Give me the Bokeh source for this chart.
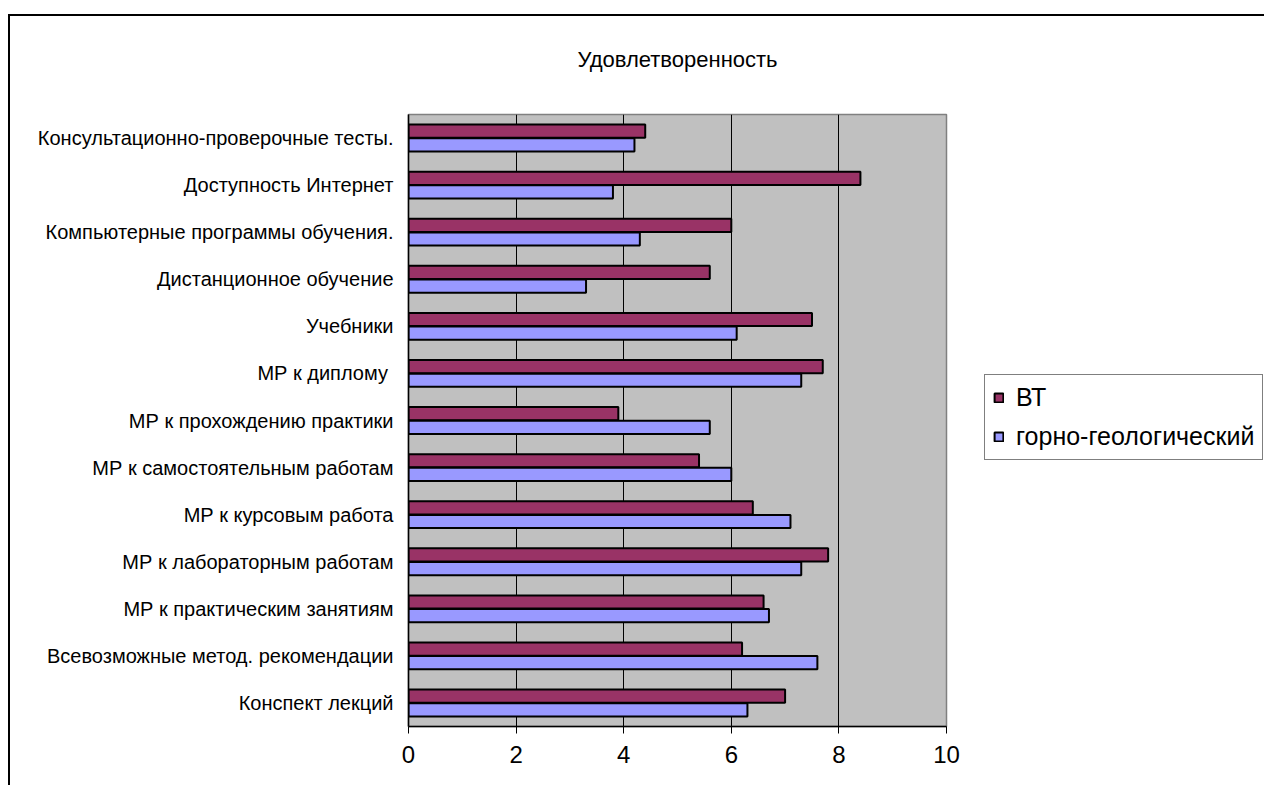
from bokeh.plotting import figure
from bokeh.models import (ColumnDataSource, FactorRange, Range1d, FixedTicker,
                          Legend, LegendItem, InlineStyleSheet)
from bokeh.transform import dodge
from bokeh.embed import file_html
from bokeh.resources import INLINE

# Survey items, listed bottom to top
categories = [
    "Конспект лекций",
    "Всевозможные метод. рекомендации",
    "МР к практическим занятиям",
    "МР к лабораторным работам",
    "МР к курсовым работа",
    "МР к самостоятельным работам",
    "МР к прохождению практики",
    "МР  к диплому",
    "Учебники",
    "Дистанционное обучение",
    "Компьютерные программы обучения.",
    "Доступность Интернет",
    "Консультационно-проверочные тесты.",
]
vt = [7.0, 6.2, 6.6, 7.8, 6.4, 5.4, 3.9, 7.7, 7.5, 5.6, 6.0, 8.4, 4.4]
gorno = [6.3, 7.6, 6.7, 7.3, 7.1, 6.0, 5.6, 7.3, 6.1, 3.3, 4.3, 3.8, 4.2]
series_names = ["ВТ", "горно-геологический"]
x_ticks = [0, 2, 4, 6, 8, 10]
title_text = "Удовлетворенность"

FONT = "Liberation Sans"
W, H = 1264, 785
LEFT, RIGHT, TOP, BOTTOM = 408, 946, 114, 726

src = ColumnDataSource(dict(cat=categories, vt=vt, gorno=gorno))

p = figure(
    frame_width=RIGHT - LEFT, frame_height=BOTTOM - TOP,
    y_range=FactorRange(*categories, range_padding=0),
    x_range=Range1d(0, 10),
    output_backend="svg", toolbar_location=None,
    min_border_left=LEFT, min_border_right=W - RIGHT,
    min_border_top=TOP, min_border_bottom=H - BOTTOM,
)
p.background_fill_color = "#C0C0C0"
p.border_fill_color = "white"
p.outline_line_color = "#808080"
p.outline_line_width = 1.5

# chart title
p.title.text = title_text
p.title.align = "center"
p.title.offset = 4
p.title.text_font = FONT
p.title.text_font_size = "22px"
p.title.text_font_style = "normal"
p.title.text_color = "black"
p.title.standoff = 86

bh = 0.28
r_vt = p.hbar(y=dodge("cat", 0.145, range=p.y_range), right="vt", left=0, height=bh,
              source=src, fill_color="#993366", line_color="black", line_width=2)
r_go = p.hbar(y=dodge("cat", -0.145, range=p.y_range), right="gorno", left=0, height=bh,
              source=src, fill_color="#9999FF", line_color="black", line_width=2)

# value axis
p.xaxis.ticker = FixedTicker(ticks=x_ticks)
p.xaxis.minor_tick_line_color = None
p.xaxis.major_tick_in = 0
p.xaxis.major_tick_out = 7
p.xaxis.major_tick_line_color = "black"
p.xaxis.axis_line_color = "black"
p.xaxis.axis_line_width = 1.5
p.xaxis.major_label_text_font = FONT
p.xaxis.major_label_text_font_size = "24px"
p.xaxis.major_label_text_color = "black"
p.xaxis.major_label_standoff = 12

# category axis
p.yaxis.major_tick_line_color = None
p.yaxis.major_tick_out = 0
p.yaxis.major_tick_in = 0
p.yaxis.axis_line_color = "black"
p.yaxis.axis_line_width = 1.5
p.yaxis.major_label_text_font = FONT
p.yaxis.major_label_text_font_size = "20px"
p.yaxis.major_label_text_color = "black"
p.yaxis.major_label_standoff = 15

p.xgrid.grid_line_color = "black"
p.xgrid.grid_line_width = 1
p.ygrid.grid_line_color = None

# legend to the right of the plot area
legend = Legend(items=[LegendItem(label=series_names[0], renderers=[r_vt]),
                       LegendItem(label=series_names[1], renderers=[r_go])],
                location=(38, BOTTOM - 460), orientation="vertical")
legend.label_text_font = FONT
legend.label_text_font_size = "25px"
legend.label_text_color = "black"
legend.glyph_width = 11
legend.glyph_height = 11
legend.label_standoff = 12
legend.padding = 8
legend.spacing = 10
legend.margin = 0
legend.border_line_color = "black"
legend.border_line_width = 1
legend.background_fill_color = "white"
p.add_layout(legend, "right")

# outer chart border: only its left and top edges fall inside the page
p.stylesheets = [InlineStyleSheet(css="""
:host { position: relative; max-width: 1264px; max-height: 785px; overflow: hidden; }
:host::after {
  content: "";
  position: absolute;
  left: 8px; top: 14px; right: 0; bottom: 0;
  border-left: 2px solid black;
  border-top: 2px solid black;
  pointer-events: none;
}
""")]

open("out.html", "w").write(file_html(p, INLINE))
